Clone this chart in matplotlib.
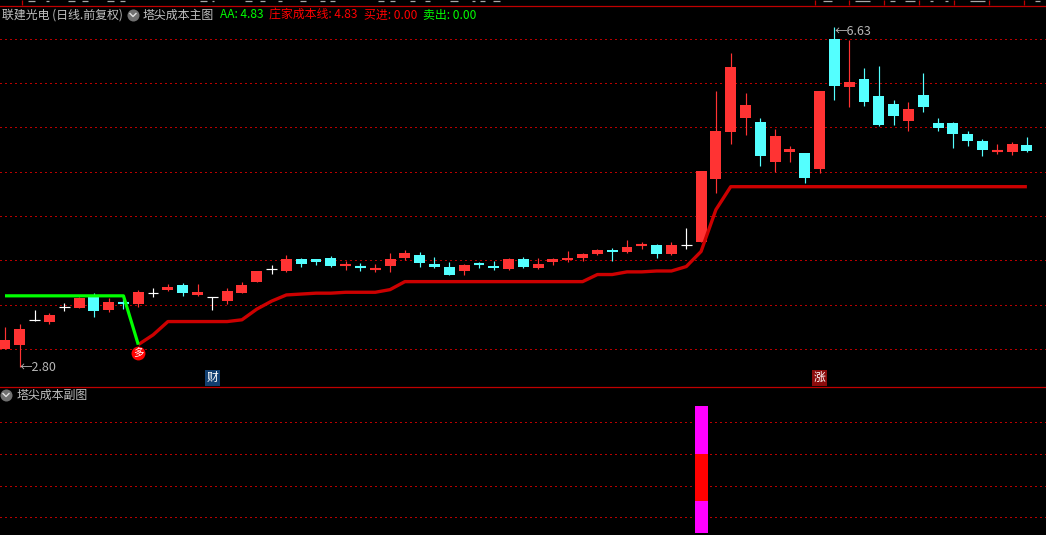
"""Tower-cost main chart and sub chart, dark trading terminal look."""
import matplotlib
matplotlib.use("Agg")
from matplotlib import pyplot as plt
from matplotlib.patches import Rectangle

plt.rcParams["font.family"] = ["Noto Sans CJK SC", "DejaVu Sans"]

W, H = 1046, 535

opens = [3.00, 3.05, 3.33, 3.31, 3.47, 3.46, 3.59, 3.44, 3.53, 3.51,
         3.63, 3.67, 3.72, 3.61, 3.59, 3.54, 3.63, 3.76, 3.90, 3.88,
         4.02, 4.02, 4.03, 3.94, 3.93, 3.89, 3.94, 4.03, 4.06, 3.96,
         3.93, 3.88, 3.96, 3.94, 3.90, 4.02, 3.91, 3.98, 4.00, 4.03,
         4.07, 4.12, 4.09, 4.16, 4.17, 4.07, 4.17, 4.21, 4.92, 5.45,
         5.60, 5.56, 5.11, 5.22, 5.21, 5.03, 6.50, 5.95, 6.04, 5.85,
         5.76, 5.57, 5.86, 5.55, 5.55, 5.42, 5.34, 5.23, 5.22, 5.30]
closes = [3.10, 3.23, 3.33, 3.38, 3.47, 3.58, 3.43, 3.53, 3.51, 3.64,
          3.63, 3.70, 3.63, 3.64, 3.59, 3.65, 3.72, 3.88, 3.90, 4.02,
          3.96, 3.98, 3.94, 3.95, 3.92, 3.91, 4.02, 4.08, 3.97, 3.93,
          3.84, 3.95, 3.95, 3.91, 4.02, 3.93, 3.96, 4.02, 4.03, 4.07,
          4.12, 4.09, 4.15, 4.18, 4.07, 4.17, 4.17, 5.01, 5.46, 6.18,
          5.75, 5.18, 5.40, 5.25, 4.93, 5.91, 5.96, 6.01, 5.78, 5.53,
          5.63, 5.71, 5.73, 5.49, 5.42, 5.34, 5.24, 5.24, 5.31, 5.23]
highs = [3.25, 3.28, 3.44, 3.41, 3.52, 3.59, 3.63, 3.58, 3.59, 3.67,
         3.69, 3.73, 3.74, 3.73, 3.59, 3.69, 3.76, 3.88, 3.95, 4.06,
         4.03, 4.02, 4.05, 3.99, 3.97, 3.96, 4.08, 4.12, 4.09, 4.04,
         3.98, 3.96, 3.98, 3.99, 4.03, 4.04, 4.03, 4.03, 4.10, 4.08,
         4.13, 4.14, 4.23, 4.21, 4.18, 4.21, 4.36, 5.01, 5.91, 6.34,
         5.89, 5.60, 5.48, 5.29, 5.21, 5.91, 6.63, 6.48, 6.17, 6.19,
         5.81, 5.78, 6.11, 5.60, 5.56, 5.46, 5.37, 5.31, 5.33, 5.39]
lows = [3.00, 2.80, 3.32, 3.28, 3.43, 3.46, 3.36, 3.42, 3.45, 3.47,
        3.59, 3.65, 3.60, 3.60, 3.44, 3.51, 3.63, 3.76, 3.85, 3.87,
        3.93, 3.95, 3.93, 3.89, 3.88, 3.87, 3.87, 4.00, 3.93, 3.91,
        3.84, 3.84, 3.91, 3.89, 3.89, 3.91, 3.90, 3.95, 3.98, 3.99,
        4.06, 3.99, 4.08, 4.13, 4.03, 4.06, 4.13, 4.21, 4.76, 5.31,
        5.41, 5.06, 5.00, 5.11, 4.87, 4.98, 5.81, 5.73, 5.74, 5.51,
        5.53, 5.46, 5.67, 5.46, 5.27, 5.29, 5.18, 5.20, 5.19, 5.22]

# banker cost line starts at the buy signal, candle 9
cost_line = [3.05, 3.16, 3.31, 3.31, 3.31, 3.31, 3.31, 3.33, 3.45, 3.54,
             3.61, 3.62, 3.63, 3.63, 3.64, 3.64, 3.64, 3.67, 3.76, 3.76,
             3.76, 3.76, 3.76, 3.76, 3.76, 3.76, 3.76, 3.76, 3.76, 3.76,
             3.76, 3.84, 3.84, 3.87, 3.87, 3.88, 3.88, 3.93, 4.10, 4.57,
             4.83, 4.83, 4.83, 4.83, 4.83, 4.83, 4.83, 4.83, 4.83, 4.83,
             4.83, 4.83, 4.83, 4.83, 4.83, 4.83, 4.83, 4.83, 4.83, 4.83,
             4.83]
green_line = [3.60, 3.60, 3.60, 3.60, 3.60, 3.60, 3.60, 3.60, 3.60, 3.05]

price_grid = [3.0, 3.5, 4.0, 4.5, 5.0, 5.5, 6.0, 6.5]
sub_grid = [1, 2, 3, 4]
sub_bar_bottoms = [0.5, 1.5, 3.0]
sub_bar_tops = [1.5, 3.0, 4.5]
sub_bar_colors = ["#ff00ff", "#ff0000", "#ff00ff"]
sub_bar_index = 47

header_parts = [("联建光电 (日线.前复权)", 2, "#c0c0c0"),
                ("塔尖成本主图", 143, "#c0c0c0"),
                ("AA: 4.83", 220, "#00ff00"),
                ("庄家成本线: 4.83", 269, "#ff0000"),
                ("买进: 0.00", 364, "#ff0000"),
                ("卖出: 0.00", 423, "#00ff00")]
strip_ticks = [22, 815, 849, 884, 919, 954, 989, 1024]
# cut-off quote text above the frame line, only its lowest pixels show
strip_bits = [(28, 35), (46, 49), (68, 75), (82, 88), (107, 114), (120, 125),
              (200, 207), (212, 214), (245, 252), (260, 265), (278, 282),
              (300, 306), (320, 325), (330, 335), (378, 384), (390, 395),
              (410, 415), (425, 430), (450, 458), (472, 475), (480, 485),
              (493, 500), (823, 832), (855, 870), (890, 895), (905, 915),
              (930, 933), (945, 948), (970, 985), (1035, 1040)]

RED = "#ff3333"
CYAN = "#54ffff"
GRID = "#b80000"
DOTS = (0, (1.2, 3.3))

fig = plt.figure(figsize=(W / 100, H / 100), dpi=100, facecolor="black")


def panel(top, bottom):
    return fig.add_axes([0, 1 - bottom / H, 1, (bottom - top) / H])


def dotted_grid(axis, levels):
    for level in levels:
        axis.axhline(level, color=GRID, lw=0.8, ls=DOTS, zorder=1,
                     antialiased=False)


x0 = -5 / 14.81  # left pixel edge in candle index units
x1 = (W - 5) / 14.81

ax = panel(5, 386)
ax.set_xlim(x0, x1)
ax.set_ylim(6.934 - 0.01127 * 386, 6.934 - 0.01127 * 5)
ax.set_facecolor("black")
ax.axis("off")
dotted_grid(ax, price_grid)

for i, (o, c, h, l) in enumerate(zip(opens, closes, highs, lows)):
    col = RED if c > o else CYAN if c < o else "white"
    ax.vlines(i, l, h, color=col, lw=0.85, zorder=3)
    if c == o:
        ax.hlines(c, i - 0.36, i + 0.36, color=col, lw=0.85, zorder=3)
    elif abs(c - o) < 0.025:
        ax.hlines((c + o) / 2, i - 0.36, i + 0.36, color=col, lw=1.5, zorder=3)
    else:
        ax.add_patch(Rectangle((i - 0.37, min(o, c)), 0.74, abs(c - o),
                               fc=col, ec="none", zorder=4))

ax.plot(range(9, 9 + len(cost_line)), cost_line, color="#cc0000", lw=2.4,
        solid_capstyle="butt", zorder=5)
ax.plot(range(len(green_line)), green_line, color="#00ff00", lw=2.3,
        solid_capstyle="butt", zorder=6)

# buy marker and event tags
ax.scatter([9], [2.96], s=100, color="#ff0000", zorder=7, linewidths=0)
ax.text(9, 2.96, "多", color="white", fontsize=7.5, ha="center", va="center",
        zorder=8)
ax.text(14, 2.675, "财", color="white", fontsize=8.5, ha="center", va="center",
        zorder=8, bbox=dict(fc="#123f70", ec="none", pad=1.0))
ax.text(55, 2.675, "涨", color="white", fontsize=8.5, ha="center", va="center",
        zorder=8, bbox=dict(fc="#8c0c0c", ec="none", pad=1.0))

ax.text(1.0, 2.79, "←2.80", color="#b8b8b8", fontsize=9, va="center", zorder=8)
ax.text(56.0, 6.58, "←6.63", color="#b8b8b8", fontsize=9, va="center", zorder=8)

sub = panel(387, 535)
sub.set_xlim(x0, x1)
sub.set_ylim((549 - 535) / 31.7, (549 - 387) / 31.7)
sub.set_facecolor("black")
sub.axis("off")
dotted_grid(sub, sub_grid)
sub.bar([sub_bar_index] * 3,
        [t - b for t, b in zip(sub_bar_tops, sub_bar_bottoms)],
        bottom=sub_bar_bottoms, width=0.88, color=sub_bar_colors, zorder=3)

# overlay in plain pixels for frame lines and caption texts
top = fig.add_axes([0, 0, 1, 1], zorder=10)
top.set_xlim(0, W)
top.set_ylim(H, 0)
top.axis("off")
top.patch.set_alpha(0)
top.axhline(5.5, color="#c00000", lw=0.9)
top.axhline(386.5, color="#c00000", lw=0.9)
top.vlines(strip_ticks, 0, 5, color="#c00000", lw=0.9)
for a, b in strip_bits:
    top.hlines(0.7, a, b, color="#a8a8a8", lw=0.9)
for text, x, col in header_parts:
    top.text(x, 15, text, color=col, fontsize=8.6, va="center", ha="left")
top.text(17, 395, "塔尖成本副图", color="#c0c0c0", fontsize=8.6, va="center", ha="left")
for cx, cy in [(133, 15), (6, 395)]:
    top.scatter([cx], [cy], s=75, color="#707070", linewidths=0)
    top.plot([cx - 3, cx, cx + 3], [cy - 1.5, cy + 1.5, cy - 1.5], color="#e0e0e0", lw=1)

fig.savefig("out.png", dpi=100, facecolor="black")
